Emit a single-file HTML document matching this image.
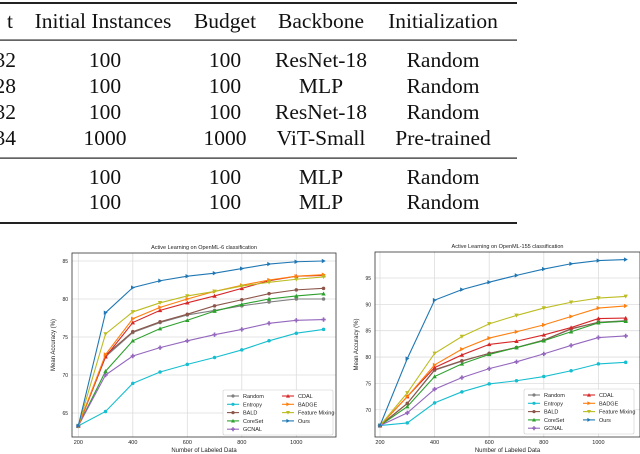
<!DOCTYPE html>
<html><head><meta charset="utf-8"><style>
html,body{margin:0;padding:0;background:#fff;width:640px;height:454px;overflow:hidden}
svg{display:block}
.tb{font-family:"Liberation Serif",serif;font-size:21.5px;fill:#111}
.ax{font-family:"Liberation Sans",sans-serif;fill:#222}
</style></head><body>
<svg id="root" width="640" height="454" viewBox="0 0 640 454">
<g>
<rect x="0" y="2" width="517" height="2" fill="#222"/>
<rect x="0" y="39.5" width="517" height="1.2" fill="#222"/>
<rect x="0" y="157.5" width="517" height="1.2" fill="#222"/>
<rect x="0" y="222" width="517" height="2" fill="#222"/>
<g class="tb" text-anchor="middle">
<text x="13" y="28" text-anchor="end">t</text>
<text x="103" y="28">Initial Instances</text>
<text x="225" y="28">Budget</text>
<text x="321" y="28">Backbone</text>
<text x="443" y="28">Initialization</text>
<g><text x="16" y="67" text-anchor="end">32</text><text x="105" y="67">100</text><text x="225" y="67">100</text><text x="321" y="67">ResNet-18</text><text x="443" y="67">Random</text></g>
<g><text x="16" y="93" text-anchor="end">28</text><text x="105" y="93">100</text><text x="225" y="93">100</text><text x="321" y="93">MLP</text><text x="443" y="93">Random</text></g>
<g><text x="16" y="119" text-anchor="end">32</text><text x="105" y="119">100</text><text x="225" y="119">100</text><text x="321" y="119">ResNet-18</text><text x="443" y="119">Random</text></g>
<g><text x="16" y="145" text-anchor="end">34</text><text x="105" y="145">1000</text><text x="225" y="145">1000</text><text x="321" y="145">ViT-Small</text><text x="443" y="145">Pre-trained</text></g>
<g><text x="105" y="184">100</text><text x="225" y="184">100</text><text x="321" y="184">MLP</text><text x="443" y="184">Random</text></g>
<g><text x="105" y="209">100</text><text x="225" y="209">100</text><text x="321" y="209">MLP</text><text x="443" y="209">Random</text></g>
</g></g>
</svg>
<script>
const xs = [200,300,400,500,600,700,800,900,1000,1100];
const methods = ["Random","Entropy","BALD","CoreSet","GCNAL","CDAL","BADGE","Feature Mixing","Ours"];
const colors = ["#7f7f7f","#17becf","#8c564b","#2ca02c","#9467bd","#d62728","#ff7f0e","#bcbd22","#1f77b4"];
const markers = ["circle","circle","circle","tri-up","plus","tri-up","tri-right","tri-down","tri-right"];
const xTicks = [200,400,600,800,1000];
const yTicks1 = [65,70,75,80,85];
const yTicks2 = [70,75,80,85,90,95];
const c1Random  = [63.3,72.4,75.6,76.9,77.9,78.5,79.1,79.6,80.0,80.0];
const c1Entropy = [63.3,65.2,68.9,70.4,71.4,72.3,73.3,74.5,75.5,76.0];
const c1BALD    = [63.3,72.6,75.7,77.0,78.0,79.1,79.9,80.7,81.2,81.4];
const c1CoreSet = [63.3,70.5,74.5,76.1,77.2,78.4,79.3,80.0,80.4,80.7];
const c1GCNAL   = [63.3,70.0,72.5,73.6,74.5,75.3,76.0,76.8,77.2,77.3];
const c1CDAL    = [63.3,72.4,76.9,78.5,79.5,80.4,81.4,82.4,83.0,83.1];
const c1BADGE   = [63.3,72.7,77.4,78.9,80.0,81.0,81.8,82.5,83.0,83.2];
const c1FM      = [63.3,75.4,78.3,79.5,80.4,81.0,81.7,82.2,82.6,82.9];
const c1Ours    = [63.3,78.2,81.5,82.4,83.0,83.4,84.0,84.6,84.9,85.0];
const c2Random  = [67.0,71.2,77.5,79.2,80.7,81.8,83.2,85.3,86.6,86.9];
const c2Entropy = [67.0,67.5,71.3,73.4,74.9,75.5,76.3,77.4,78.7,79.0];
const c2BALD    = [67.0,71.2,77.6,79.3,80.7,81.8,83.2,85.4,86.6,86.8];
const c2CoreSet = [67.0,70.6,76.3,78.7,80.5,81.8,83.1,84.8,86.5,86.8];
const c2GCNAL   = [67.0,69.4,73.9,76.1,77.8,79.1,80.6,82.2,83.7,84.0];
const c2CDAL    = [67.0,72.5,78.0,80.4,82.4,83.0,84.2,85.6,87.3,87.4];
const c2BADGE   = [67.0,72.5,78.5,81.5,83.6,84.8,86.1,87.7,89.3,89.7];
const c2FM      = [67.0,73.2,80.7,83.9,86.3,87.9,89.3,90.4,91.2,91.5];
const c2Ours    = [67.0,79.7,90.8,92.8,94.2,95.5,96.7,97.7,98.3,98.5];
const series1 = [c1Random,c1Entropy,c1BALD,c1CoreSet,c1GCNAL,c1CDAL,c1BADGE,c1FM,c1Ours];
const series2 = [c2Random,c2Entropy,c2BALD,c2CoreSet,c2GCNAL,c2CDAL,c2BADGE,c2FM,c2Ours];

const NS="http://www.w3.org/2000/svg";
const root=document.getElementById('root');
function mk(tag,attrs,parent){const e=document.createElementNS(NS,tag);for(const k in attrs)e.setAttribute(k,attrs[k]);(parent||root).appendChild(e);return e;}
function marker(g,type,x,y,col,s){
  let e;
  if(type==="circle"){e=mk('circle',{cx:x,cy:y,r:s*0.8,fill:col},g);}
  else if(type==="plus"){e=mk('path',{d:`M${x-s},${y}H${x+s}M${x},${y-s}V${y+s}`,stroke:col,'stroke-width':1.6},g);}
  else{let p;
    if(type==="tri-up")p=[[x,y-s],[x-s,y+s*0.8],[x+s,y+s*0.8]];
    else if(type==="tri-down")p=[[x,y+s],[x-s,y-s*0.8],[x+s,y-s*0.8]];
    else p=[[x+s,y],[x-s*0.8,y-s],[x-s*0.8,y+s]];
    e=mk('polygon',{points:p.map(q=>q.join(',')).join(' '),fill:col},g);}
  
  
}
function chart(cfg){
  const g=mk('g',{});
  
  
  const L=cfg.L,R=cfg.R,T=cfg.T,B=cfg.B;
  const sx=v=>cfg.x200+(v-200)*cfg.xk;
  const sy=v=>cfg.y0+(cfg.v0-v)*cfg.yk;
  mk('rect',{x:L,y:T,width:R-L,height:B-T,fill:'#fff'},g);
  xTicks.forEach(t=>{
    const l=mk('line',{x1:sx(t),x2:sx(t),y1:T,y2:B,stroke:'#ddd','stroke-width':0.8},g);
    
    const tx=mk('text',{x:sx(t),y:B+7,'font-size':5.5,'text-anchor':'middle',class:'ax'},g);tx.textContent=t;
    
  });
  cfg.yt.forEach(t=>{
    const l=mk('line',{x1:L,x2:R,y1:sy(t),y2:sy(t),stroke:'#ddd','stroke-width':0.8},g);
    
    const tx=mk('text',{x:L-4,y:sy(t)+2,'font-size':5,'text-anchor':'end',class:'ax'},g);tx.textContent=t;
    
  });
  const fr=mk('rect',{x:L,y:T,width:R-L,height:B-T,fill:'none',stroke:'#333','stroke-width':0.8},g);
  
  const ti=mk('text',{x:(L+R)/2,y:T-4,'font-size':5.5,'text-anchor':'middle',class:'ax'},g);ti.textContent=cfg.title;
  
  const xl=mk('text',{x:(L+R)/2,y:B+15,'font-size':6,'text-anchor':'middle',class:'ax'},g);xl.textContent='Number of Labeled Data';
  
  const yx=L-17,yy=(T+B)/2;
  const yl=mk('text',{x:yx,y:yy,'font-size':6,'text-anchor':'middle',class:'ax',transform:`rotate(-90 ${yx} ${yy})`},g);yl.textContent='Mean Accuracy (%)';
  
  cfg.series.forEach((s,i)=>{
    const sg=mk('g',{},g);
    
    
    const pl=mk('polyline',{points:s.map((v,j)=>sx(xs[j])+','+sy(v)).join(' '),fill:'none',stroke:colors[i],'stroke-width':1.1},sg);
    
    s.forEach((v,j)=>marker(sg,markers[i],sx(xs[j]),sy(v),colors[i],2.2));
  });
  const lg=mk('g',{},g);
  
  mk('rect',{x:cfg.lx,y:cfg.ly,width:110,height:45,fill:'#fff','fill-opacity':0.9,stroke:'#ccc','stroke-width':0.6,rx:1.5},lg);
  methods.forEach((m,i)=>{
    const col=i<5?0:1,row=i<5?i:i-5;
    const x=cfg.lx+4+col*55,y=cfg.ly+6+row*8.3;
    const eg=mk('g',{},lg);
    
    mk('line',{x1:x,x2:x+12,y1:y,y2:y,stroke:colors[i],'stroke-width':1.1},eg);
    marker(eg,markers[i],x+6,y,colors[i],2);
    const t=mk('text',{x:x+16,y:y+2,'font-size':5.5,class:'ax'},eg);t.textContent=m;
  });
}
chart({name:'chart-openml-6',title:'Active Learning on OpenML-6 classification',L:72,R:336,T:253,B:437,x200:78.3,xk:0.2725,y0:261,v0:85,yk:7.6,yt:yTicks1,series:series1,lx:223,ly:390});
chart({name:'chart-openml-155',title:'Active Learning on OpenML-155 classification',L:375,R:640,T:252,B:437,x200:380,xk:0.273,y0:278,v0:95,yk:5.27,yt:yTicks2,series:series2,lx:524,ly:389});
</script>
</body></html>
